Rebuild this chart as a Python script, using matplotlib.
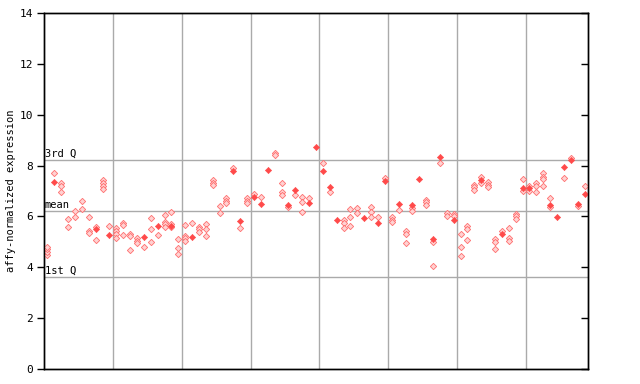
#!/usr/bin/env python3
"""Per-sample affy-normalized expression scatter with quartile guides."""

import matplotlib

matplotlib.use("Agg")
import matplotlib.pyplot as plt

# open diamonds (replicates) per sample
OPEN_VALUES = [
    [4.5, 4.6, 4.7, 4.8], [7.7], [7.3, 7.2, 6.95], [5.9, 5.58], [6.2, 5.97],
    [6.6, 6.3], [5.97, 5.42, 5.35], [5.58, 5.07], [7.45, 7.3, 7.2, 7.08], [5.63],
    [5.55, 5.42, 5.3, 5.15], [5.75, 5.67, 5.28], [5.3, 5.22, 4.67], [5.15, 5.05, 4.95], [4.8],
    [5.93, 5.51, 4.99], [5.28], [6.06, 5.79, 5.7, 5.58], [6.18, 5.7, 5.57], [5.1, 4.74, 4.53],
    [5.66, 5.25, 5.15, 5.04], [5.73], [5.6, 5.5, 5.39], [5.71, 5.5, 5.22], [7.42, 7.32, 7.24],
    [6.42, 6.13], [6.72, 6.62, 6.52], [7.9], [5.54], [6.72, 6.62, 6.52],
    [6.89], [6.77], [], [8.49, 8.4], [7.31, 6.96, 6.85],
    [6.38], [6.85], [6.77, 6.56, 6.17], [6.74], [],
    [8.1], [6.96], [], [5.84, 5.74, 5.56], [6.29, 5.97, 5.63],
    [6.35, 6.15], [], [6.38, 6.18, 5.97], [5.98], [7.5],
    [5.97, 5.87, 5.78], [6.25], [5.41, 5.3, 4.95], [6.35, 6.22], [],
    [6.65, 6.55, 6.44], [5.0, 4.04], [8.1], [6.15, 6.0], [6.1, 6.0],
    [5.31, 4.8, 4.44], [5.63, 5.51, 5.07], [7.24, 7.15, 7.05], [7.55, 7.32], [7.34, 7.24, 7.14],
    [5.1, 5.0, 4.71], [5.41], [5.54, 5.15, 5.04], [6.1, 6.0, 5.89], [7.48, 7.0],
    [7.18, 7.0], [7.3, 7.2, 6.96], [7.69, 7.57, 7.47, 7.2], [6.73, 6.38], [],
    [7.51], [8.3], [6.4], [7.19],
]

# solid diamonds per sample (None where there is none)
SOLID_VALUES = [
    None, 7.35, None, None, None, None, None, 5.5, None, 5.26,
    None, None, None, None, 5.21, None, 5.64, None, 5.64, None,
    None, 5.21, None, None, None, None, None, 7.8, 5.83, None,
    6.78, 6.5, 7.83, None, None, 6.45, 7.02, None, 6.51, 8.75,
    7.77, 7.14, 5.87, None, None, None, 5.94, None, 5.76, 7.4,
    None, 6.47, None, 6.45, 7.48, None, 5.1, 8.32, None, 5.85,
    None, None, None, 7.42, None, None, 5.3, None, None, 7.11,
    7.1, None, None, 6.46, 5.96, 7.93, 8.2, 6.5, 6.89,
]

QUARTILE_LABELS = ["3rd Q", "mean", "1st Q"]
QUARTILE_VALUES = [8.22, 6.21, 3.61]

GROUP_EDGES = [10, 20, 30, 40, 50, 60, 70]
Y_TICKS = [0, 2, 4, 6, 8, 10, 12, 14]

OPEN_FACE = "#ffd2d2"
OPEN_EDGE = "#ff6e6e"
SOLID_COLOR = "#ff4a4a"
GUIDE_COLOR = "#aaaaaa"
MONO = "DejaVu Sans Mono"


def main():
    n_samples = len(OPEN_VALUES)
    fig = plt.figure(figsize=(6.4, 3.84), dpi=100)
    ax = fig.add_axes([44 / 640, 15 / 384, 544 / 640, 356 / 384])

    for edge in GROUP_EDGES:
        ax.axvline(edge, color=GUIDE_COLOR, linewidth=1.0, zorder=1)
    for label, value in zip(QUARTILE_LABELS, QUARTILE_VALUES):
        ax.axhline(value, color=GUIDE_COLOR, linewidth=1.0, zorder=1)
        ax.text(0.1, value + 0.05, label, fontsize=7.5, family=MONO,
                ha="left", va="bottom", zorder=3)

    xs, ys = [], []
    for i, vals in enumerate(OPEN_VALUES):
        for v in vals:
            xs.append(i + 0.5)
            ys.append(v)
    ax.plot(xs, ys, linestyle="none", marker="D", markersize=3.2,
            markerfacecolor=OPEN_FACE, markeredgecolor=OPEN_EDGE,
            markeredgewidth=0.6, zorder=4)

    sx = [i + 0.5 for i, v in enumerate(SOLID_VALUES) if v is not None]
    sy = [v for v in SOLID_VALUES if v is not None]
    ax.plot(sx, sy, linestyle="none", marker="D", markersize=3.2,
            color=SOLID_COLOR, markeredgewidth=0.4, zorder=5)

    ax.set_xlim(0, n_samples)
    ax.set_ylim(0, 14)
    ax.set_xticks([])
    ax.set_yticks(Y_TICKS)
    ax.set_yticklabels([str(t) for t in Y_TICKS], family=MONO, fontsize=8)
    ax.tick_params(axis="y", direction="out", length=5, width=1, pad=3)
    ax.set_ylabel("affy-normalized expression", family=MONO, fontsize=7.5)
    ax.yaxis.set_label_coords(-0.052, 0.5)

    # right-hand ticks point inward
    ax_r = ax.twinx()
    ax_r.set_ylim(0, 14)
    ax_r.set_yticks(Y_TICKS)
    ax_r.tick_params(axis="y", direction="in", length=5, width=1, labelright=False)

    for a in (ax, ax_r):
        for side in ["top", "right", "bottom", "left"]:
            a.spines[side].set_linewidth(1.0)

    fig.savefig("out.png", dpi=100, facecolor="white")


if __name__ == "__main__":
    main()
